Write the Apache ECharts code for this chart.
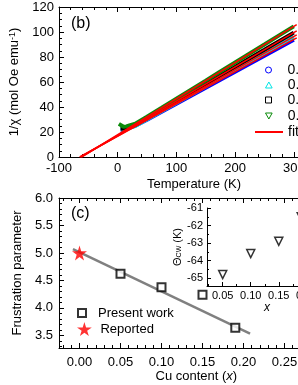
<!DOCTYPE html>
<html><head><meta charset="utf-8">
<script src="https://cdn.jsdelivr.net/npm/echarts@6/dist/echarts.min.js"></script>
<style>html,body{margin:0;padding:0;background:#fff}#c{width:298px;height:385px}</style>
</head><body><div id="c"></div>
<script>
// ---- data: panel (b) ----
const tempK = [2, 5, 10, 15, 20, 30, 50, 75, 100, 125, 150, 175, 200, 225, 250, 275, 300];
const invChi005 = [null, 21.0, 21.5, 22.3, 23.2, 25.0, 29.8, 36.2, 42.6, 49.0, 55.4, 61.8, 68.2, 74.6, 81.0, 87.4, 93.8];
const invChi010 = [null, 21.8, 22.2, 22.8, 23.5, 24.8, 30.1, 36.7, 43.4, 50.0, 56.6, 63.3, 69.9, 76.5, 83.2, 89.8, 96.4];
const invChi015 = [null, 22.5, 22.8, 23.3, 24.0, 25.5, 31.0, 37.8, 44.7, 51.5, 58.4, 65.3, 72.1, 79.0, 85.8, 92.7, 99.5];
const invChi019 = [26.5, 25.8, 24.2, 24.5, 25.3, 26.6, 32.2, 39.4, 46.7, 53.9, 61.1, 68.4, 75.6, 82.8, 90.0, 97.3, 104.5];
const seriesNames = ['0.05', '0.10', '0.15', '0.19'];
const fitEndT = 305;
const fitEndVal = [95.3, 97.7, 100.9, 105.9];
// ---- data: panel (c) ----
const cuPresent = [0.05, 0.10, 0.15, 0.19];
const frustPresent = [4.62, 4.375, 4.24, 3.64];
const cuReported = [0.00];
const frustReported = [5.0];
const fitLineX = [-0.008, 0.208];
const fitLineY = [5.07, 3.53];
// ---- inset ----
const insetX = [0.05, 0.10, 0.15, 0.19];
const thetaCW = [-64.8, -63.6, -62.9, -61.5];
// ---- tick labels ----
const cMajorX = [0.00, 0.05, 0.10, 0.15, 0.20, 0.25, 0.30];
const cMajorY = [3.5, 4.0, 4.5, 5.0, 5.5, 6.0];
const insetMajorX = [0.05, 0.10, 0.15, 0.20];
const insetMajorY = [-65, -64, -63, -62, -61];

function steps(a, b, s, excl) {
  const out = [];
  for (let v = a; v <= b + 1e-9; v += s) {
    const r = Math.round(v * 10000) / 10000;
    if (!excl.some(e => Math.abs(e - r) < 1e-6)) out.push(r);
  }
  return out;
}
const cMinorX = steps(-0.02, 0.31, 0.01, cMajorX);
const cMinorY = steps(3.3, 6.0, 0.1, cMajorY);
const insetMinorX = steps(0.025, 0.236, 0.05, []);
const insetMinorY = steps(-65.0, -61.0, 0.5, insetMajorY);

const FONT = 'Liberation Sans, Arial, sans-serif';
const colors = ['#0000ff', '#00e5e5', '#000000', '#0a8a0a'];
const icons = [
  'path://M5,0 A5,5 0 1,1 4.99,0 Z',
  'path://M5,0 L10,9 L0,9 Z',
  'path://M0,0 L10,0 L10,10 L0,10 Z',
  'path://M0,0 L10,0 L5,9 Z'
];
const starPath = 'path://M50,0 L61,35 L98,35 L68,57 L79,91 L50,70 L21,91 L32,57 L2,35 L39,35 Z';

const lineBlack = {show: true, onZero: false, lineStyle: {color: '#000', width: 1}};
const noLine = {show: false, onZero: false};
function tick(len, vals) { const t = {show: true, inside: true, length: len, lineStyle: {color: '#000', width: 1}}; if (vals) t.customValues = vals; return t; }
const lab = {color: '#000', fontSize: 13, fontFamily: FONT};

function G(o) { return Object.assign({outerBoundsMode: 'none', containLabel: false}, o); }
const grids = [
  G({left: 59, top: 7, width: 270, height: 150}),        // (b)
  G({left: 59, top: 198, width: 274.7, height: 150}),    // (c) majors
  G({left: 59, top: 198, width: 274.7, height: 150}),    // (c) minors
  G({left: 207, top: 208, width: 120, height: 78}),      // inset majors
  G({left: 207, top: 208, width: 120, height: 78})       // inset minors
];

const xAxes = [
  {gridIndex: 0, type: 'value', position: 'bottom', min: -100, max: 360, interval: 100,
   axisLine: lineBlack, axisTick: tick(5), minorTick: {show: true, splitNumber: 5, length: 3, lineStyle: {color: '#000'}},
   splitLine: {show: false}, axisLabel: Object.assign({margin: 5, showMaxLabel: false}, lab),
   name: 'Temperature (K)', nameLocation: 'middle', nameGap: 21, nameTextStyle: {color: '#000', fontSize: 13, fontFamily: FONT}},
  {gridIndex: 0, type: 'value', position: 'top', min: -100, max: 360, interval: 100,
   axisLine: lineBlack, axisTick: tick(5), minorTick: {show: true, splitNumber: 5, length: 3, lineStyle: {color: '#000'}},
   splitLine: {show: false}, axisLabel: {show: false}},
  {gridIndex: 1, type: 'value', position: 'bottom', min: -0.025, max: 0.31,
   axisLine: lineBlack, axisTick: tick(5, cMajorX), splitLine: {show: false},
   axisLabel: Object.assign({margin: 8, customValues: cMajorX, formatter: v => v.toFixed(2)}, lab),
   name: 'Cu content ({i|x})', nameLocation: 'middle', nameGap: 22,
   nameTextStyle: {color: '#000', fontSize: 13, fontFamily: FONT, rich: {i: {fontStyle: 'italic', fontSize: 13, fontFamily: FONT, color: '#000'}}}},
  {gridIndex: 1, type: 'value', position: 'top', min: -0.025, max: 0.31,
   axisLine: lineBlack, axisTick: tick(5, cMajorX), splitLine: {show: false}, axisLabel: {show: false}},
  {gridIndex: 2, type: 'value', position: 'bottom', min: -0.025, max: 0.31,
   axisLine: noLine, axisTick: tick(3, cMinorX), splitLine: {show: false}, axisLabel: {show: false}},
  {gridIndex: 2, type: 'value', position: 'top', min: -0.025, max: 0.31,
   axisLine: noLine, axisTick: tick(3, cMinorX), splitLine: {show: false}, axisLabel: {show: false}},
  {gridIndex: 3, type: 'value', position: 'bottom', min: 0.022, max: 0.236,
   axisLine: lineBlack, axisTick: tick(4, insetMajorX), splitLine: {show: false},
   axisLabel: {customValues: insetMajorX, formatter: v => v.toFixed(2), color: '#000', fontSize: 11, fontFamily: FONT, margin: 4},
   name: 'x', nameLocation: 'middle', nameGap: 13,
   nameTextStyle: {color: '#000', fontSize: 12, fontStyle: 'italic', fontFamily: FONT}},
  {gridIndex: 4, type: 'value', position: 'bottom', min: 0.022, max: 0.236,
   axisLine: noLine, axisTick: tick(2, insetMinorX), splitLine: {show: false}, axisLabel: {show: false}}
];

const yAxes = [
  {gridIndex: 0, type: 'value', position: 'left', min: 0, max: 120, interval: 20,
   axisLine: lineBlack, axisTick: tick(5), minorTick: {show: true, splitNumber: 4, length: 3, lineStyle: {color: '#000'}},
   splitLine: {show: false}, axisLabel: Object.assign({margin: 5}, lab),
   name: '1/χ (mol Oe emu{s|-1})', nameLocation: 'middle', nameGap: 35,
   nameTextStyle: {color: '#000', fontSize: 13, fontFamily: FONT, rich: {s: {fontSize: 9, verticalAlign: 'top', fontFamily: FONT, color: '#000'}}}},
  {gridIndex: 1, type: 'value', position: 'left', min: 3.27, max: 6.0,
   axisLine: lineBlack, axisTick: tick(5, cMajorY), splitLine: {show: false},
   axisLabel: Object.assign({margin: 6, customValues: cMajorY, formatter: v => v.toFixed(1)}, lab),
   name: 'Frustration parameter', nameLocation: 'middle', nameGap: 34,
   nameTextStyle: {color: '#000', fontSize: 13, fontFamily: FONT}},
  {gridIndex: 2, type: 'value', position: 'left', min: 3.27, max: 6.0,
   axisLine: noLine, axisTick: tick(3, cMinorY), splitLine: {show: false}, axisLabel: {show: false}},
  {gridIndex: 3, type: 'value', position: 'left', min: -65.45, max: -61,
   axisLine: lineBlack, axisTick: tick(4, insetMajorY), splitLine: {show: false},
   axisLabel: {customValues: insetMajorY, formatter: v => String(v), color: '#000', fontSize: 11, fontFamily: FONT, margin: 4},
   name: 'Θ{b|CW} (K)', nameLocation: 'middle', nameGap: 24,
   nameTextStyle: {color: '#000', fontSize: 11, fontFamily: FONT, rich: {b: {fontSize: 7, verticalAlign: 'bottom', fontFamily: FONT, color: '#000'}}}},
  {gridIndex: 4, type: 'value', position: 'left', min: -65.45, max: -61,
   axisLine: noLine, axisTick: tick(2, insetMinorY), splitLine: {show: false}, axisLabel: {show: false}}
];

const bData = [invChi005, invChi010, invChi015, invChi019];
const series = [];
bData.forEach((arr, i) => {
  series.push({name: seriesNames[i], type: 'line', xAxisIndex: 0, yAxisIndex: 0,
    data: tempK.map((t, k) => [t, arr[k]]), showSymbol: false, symbol: 'none',
    lineStyle: {color: colors[i], width: 4}, itemStyle: {color: colors[i]}, z: 2 + i, animation: false});
});
thetaCW.forEach((th, i) => {
  series.push({name: 'fit', type: 'line', xAxisIndex: 0, yAxisIndex: 0,
    data: [[th, 0], [fitEndT, fitEndVal[i]]], showSymbol: false, symbol: 'none',
    lineStyle: {color: '#ff0000', width: 1.5}, itemStyle: {color: '#ff0000'}, z: 10, animation: false});
});
series.push({name: 'linefit', type: 'line', xAxisIndex: 2, yAxisIndex: 1,
  data: fitLineX.map((x, k) => [x, fitLineY[k]]), showSymbol: false, symbol: 'none',
  lineStyle: {color: '#808080', width: 2.5}, z: 2, animation: false});
series.push({name: 'Present work', type: 'scatter', xAxisIndex: 2, yAxisIndex: 1,
  data: cuPresent.map((x, k) => [x, frustPresent[k]]), symbol: 'rect', symbolSize: 8,
  itemStyle: {color: '#fff', borderColor: '#000', borderWidth: 2}, z: 5, animation: false});
series.push({name: 'Reported', type: 'scatter', xAxisIndex: 2, yAxisIndex: 1,
  data: cuReported.map((x, k) => [x, frustReported[k]]), symbol: starPath, symbolSize: 15,
  itemStyle: {color: '#ff0000'}, z: 5, animation: false});
series.push({name: 'inset', type: 'scatter', xAxisIndex: 6, yAxisIndex: 3,
  data: insetX.map((x, k) => [x, thetaCW[k]]), symbol: 'triangle', symbolRotate: 180, symbolSize: 8,
  itemStyle: {color: '#fff', borderColor: '#000', borderWidth: 1.5}, z: 5, animation: false});

const legText = {color: '#000', fontSize: 14, fontFamily: FONT, lineHeight: 16};
const legendRows = [70, 85, 100, 116];
const legends = seriesNames.map((n, i) => ({
  data: [{name: n, icon: icons[i], itemStyle: {color: '#fff', borderColor: colors[i], borderWidth: 1}}],
  left: 265, top: legendRows[i] - 8, itemWidth: 28, itemHeight: 6, itemGap: 0, padding: 0,
  selectedMode: false, textStyle: legText, symbolKeepAspect: true
}));
legends.push({data: [{name: 'fit', icon: 'rect', itemStyle: {color: '#ff0000'}}],
  left: 255, top: 132 - 8, itemWidth: 28, itemHeight: 2, padding: 0, selectedMode: false, textStyle: legText});
legends.push({data: [{name: 'Present work', icon: icons[2], itemStyle: {color: '#fff', borderColor: '#000', borderWidth: 2}}],
  left: 77, top: 313 - 8, itemWidth: 22, itemHeight: 8, padding: 0, selectedMode: false,
  textStyle: {color: '#000', fontSize: 13, fontFamily: FONT, lineHeight: 16}, symbolKeepAspect: true});
legends.push({data: [{name: 'Reported', icon: starPath, itemStyle: {color: '#ff0000'}}],
  left: 77, top: 329 - 8, itemWidth: 22, itemHeight: 14, padding: 0, selectedMode: false,
  textStyle: {color: '#000', fontSize: 13, fontFamily: FONT, lineHeight: 16}, symbolKeepAspect: true});

const chart = echarts.init(document.getElementById('c'), null, {renderer: 'canvas'});
chart.setOption({
  animation: false,
  backgroundColor: '#fff',
  title: [
    {text: '(b)', left: 71, top: 16, padding: 0, textStyle: {fontSize: 16, fontWeight: 'normal', color: '#000', fontFamily: FONT}},
    {text: '(c)', left: 71, top: 206, padding: 0, textStyle: {fontSize: 16, fontWeight: 'normal', color: '#000', fontFamily: FONT}}
  ],
  grid: grids,
  xAxis: xAxes,
  yAxis: yAxes,
  legend: legends,
  series: series
});
</script>
</body></html>
